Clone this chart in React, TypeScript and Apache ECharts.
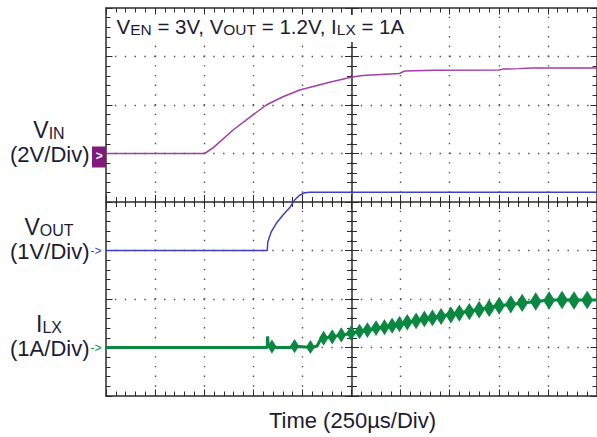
import React, { useEffect, useRef } from "react";
import * as echarts from "echarts";

// ---- Data (time in µs, 250 µs/div) ----
const vinTime = [0, 502, 545, 647, 748, 816, 901, 986, 1138, 1248, 1306, 1494, 1520, 1672, 2000, 2020, 2100, 2170, 2500];
const vinVolts = [0, 0, 0.23, 0.97, 1.59, 2.0, 2.34, 2.62, 2.94, 3.14, 3.22, 3.3, 3.4, 3.43, 3.44, 3.48, 3.5, 3.53, 3.53];

const voutTime = [0, 821, 824, 842, 867, 901, 935, 960, 986, 1011, 1037, 2500];
const voutVolts = [0, 0, 0.18, 0.39, 0.56, 0.73, 0.88, 1.04, 1.14, 1.19, 1.2, 1.2];

const ilxTime = [0, 821, 823, 826, 845, 935, 986, 1047, 1075, 1090, 1108, 1190, 1250, 1495, 1748, 2000, 2255, 2500];
const ilxAmps = [0, 0, 0.23, 0.03, 0.0, 0.0, 0.02, 0.0, 0.03, 0.15, 0.19, 0.25, 0.29, 0.48, 0.68, 0.86, 0.98, 0.98];

// ripple bursts on the inductor current (centres)
const rippleTime = [845, 960, 1041, 1108, 1152, 1198, 1248, 1291, 1331, 1375, 1418, 1457, 1494, 1534, 1579, 1621, 1662, 1706, 1756, 1799, 1850, 1900, 1951, 2002, 2061, 2119, 2188, 2256, 2322, 2383, 2450];
const rippleAmps = [0.02, 0.03, 0.01, 0.19, 0.22, 0.26, 0.3, 0.33, 0.36, 0.4, 0.42, 0.45, 0.48, 0.52, 0.55, 0.59, 0.61, 0.64, 0.67, 0.71, 0.74, 0.78, 0.81, 0.86, 0.89, 0.92, 0.95, 0.97, 0.98, 0.97, 0.98];

// scope settings: [min, max] of each channel's screen (8 divisions)
const vinRange = [-10, 6];   // 2 V/div, ground at 5th division
const voutRange = [-3, 5];   // 1 V/div, ground at 3rd division
const ilxRange = [-1, 7];    // 1 A/div, ground at 1st division

const timeMin = 0;
const timeMax = 2500;
const timeDiv = 250;

const channelNames = ["V", "V", "I"];
const channelSubs = ["IN", "OUT", "LX"];
const channelScales = ["(2V/Div)", "(1V/Div)", "(1A/Div)"];
const titleText = "{a|V}{b|EN}{a| = 3V, V}{b|OUT}{a| = 1.2V, I}{b|LX}{a| = 1A}";
const xLabel = "Time (250µs/Div)";

const FONT = "'Liberation Sans', Arial, sans-serif";
const TEXT = "#1c1c34";
const LINE = "#2b2b2b";
const DOT = "#4c4c4c";
const C_VIN = "#a23ea6";
const C_VIN_BOX = "#821a7e";
const C_VOUT = "#3f3fc6";
const C_ILX = "#0a8842";

const zip = (a: number[], b: number[]) => a.map((t, i) => [t, b[i]]);

export default function App() {
  const ref = useRef<HTMLDivElement>(null);

  useEffect(() => {
    if (!ref.current) return;
    const chart = echarts.init(ref.current, null, { renderer: "svg" });
    const grid = { left: 106, top: 8, width: 492, height: 388 };

    const tickBase = (inside: boolean, major: number, minor: number) => ({
      axisTick: { show: true, inside, length: major, lineStyle: { color: LINE, width: 1 } },
      minorTick: { show: true, splitNumber: 5, length: minor, lineStyle: { color: LINE, width: 1 } },
    });

    const xCommon = {
      type: "value",
      min: timeMin,
      max: timeMax,
      interval: timeDiv,
      axisLabel: { show: false },
      splitLine: { show: false },
    };
    const yCommon = {
      type: "value",
      min: 0,
      max: 8,
      interval: 1,
      axisLabel: { show: false },
      splitLine: { show: false },
    };
    const lineOn = { show: true, onZero: false, lineStyle: { color: LINE, width: 1.5 } };
    const lineOff = { show: false, onZero: false };

    const option: any = {
      animation: false,
      backgroundColor: "#ffffff",
      grid: { ...grid, containLabel: false },
      xAxis: [
        {
          ...xCommon,
          position: "bottom",
          axisLine: lineOn,
          ...tickBase(true, 6.5, 4.5),
          splitLine: {
            show: true,
            showMinLine: false,
            showMaxLine: false,
            lineStyle: { color: DOT, width: 1.4, type: [1.4, 8.3], dashOffset: 0.7 },
          },
        },
        { ...xCommon, position: "top", axisLine: lineOn, ...tickBase(true, 6.5, 4.5) },
        { ...xCommon, position: "bottom", offset: -194, axisLine: lineOn, ...tickBase(true, 7, 5) },
        { ...xCommon, position: "bottom", offset: -194, axisLine: lineOff, ...tickBase(false, 7, 5) },
      ],
      yAxis: [
        {
          ...yCommon,
          position: "left",
          axisLine: lineOn,
          ...tickBase(true, 6.5, 4.5),
          splitLine: {
            show: true,
            showMinLine: false,
            showMaxLine: false,
            lineStyle: { color: DOT, width: 1.4, type: [1.4, 8.44], dashOffset: 0.7 },
          },
        },
        { ...yCommon, position: "right", axisLine: lineOn, ...tickBase(true, 6.5, 4.5) },
        { ...yCommon, position: "left", offset: -246, axisLine: lineOn, ...tickBase(true, 7, 5) },
        { ...yCommon, position: "left", offset: -246, axisLine: lineOff, ...tickBase(false, 7, 5) },
        { type: "value", show: false, min: vinRange[0], max: vinRange[1] },
        { type: "value", show: false, min: voutRange[0], max: voutRange[1] },
        { type: "value", show: false, min: ilxRange[0], max: ilxRange[1] },
      ],
      series: [
        {
          name: "VIN",
          type: "line",
          xAxisIndex: 0,
          yAxisIndex: 4,
          data: zip(vinTime, vinVolts),
          symbol: "none",
          lineStyle: { color: C_VIN, width: 1.5 },
          z: 5,
        },
        {
          name: "VOUT",
          type: "line",
          xAxisIndex: 0,
          yAxisIndex: 5,
          data: zip(voutTime, voutVolts),
          symbol: "none",
          lineStyle: { color: C_VOUT, width: 1.5 },
          z: 5,
        },
        {
          name: "ILX",
          type: "line",
          xAxisIndex: 0,
          yAxisIndex: 6,
          data: zip(ilxTime, ilxAmps),
          symbol: "none",
          lineStyle: { color: C_ILX, width: 3 },
          z: 5,
        },
        {
          name: "ILX ripple",
          type: "scatter",
          xAxisIndex: 0,
          yAxisIndex: 6,
          data: zip(rippleTime, rippleAmps),
          symbol: "diamond",
          symbolSize: (v: number[]) => [7.5 + 3 * v[1], 12 + 4.5 * v[1]],
          itemStyle: { color: C_ILX, opacity: 1, borderColor: C_ILX, borderWidth: 1.2 },
          z: 6,
        },
      ],
    };
    chart.setOption(option);

    const ground = (axisIndex: number, range: number[]) => {
      const p = chart.convertToPixel({ yAxisIndex: axisIndex } as any, 0) as any;
      if (typeof p === "number" && isFinite(p)) return p;
      return grid.top + (grid.height * range[1]) / (range[1] - range[0]);
    };
    const grounds = [ground(4, vinRange), ground(5, voutRange), ground(6, ilxRange)];
    const colors = [C_VIN, C_VOUT, C_ILX];

    const graphic: any[] = [];
    grounds.forEach((g, i) => {
      graphic.push({
        type: "text",
        style: {
          x: 49,
          y: g - 24,
          text: `{a|${channelNames[i]}}{b|${channelSubs[i]}}`,
          align: "center",
          verticalAlign: "middle",
          rich: {
            a: { fontSize: 23, lineHeight: 23, fontFamily: FONT, fill: TEXT, verticalAlign: "bottom" },
            b: { fontSize: 16, lineHeight: 16, fontFamily: FONT, fill: TEXT, verticalAlign: "bottom" },
          },
        },
      });
      graphic.push({
        type: "text",
        style: {
          x: 89.5,
          y: g + 1,
          text: channelScales[i],
          font: `22px ${FONT}`,
          fill: TEXT,
          align: "right",
          verticalAlign: "middle",
        },
      });
      if (i === 0) {
        graphic.push({
          type: "rect",
          shape: { x: 92, y: g - 7, width: 14, height: 21 },
          style: { fill: C_VIN_BOX },
          z: 10,
        });
        graphic.push({
          type: "text",
          style: {
            x: 99.3,
            y: g + 2,
            text: ">",
            font: `bold 12px ${FONT}`,
            fill: "#ffffff",
            align: "center",
            verticalAlign: "middle",
          },
          z: 11,
        });
      } else {
        graphic.push({
          type: "text",
          style: {
            x: 90.5,
            y: g + 0.5,
            text: "->",
            font: `12px ${FONT}`,
            fill: colors[i],
            align: "left",
            verticalAlign: "middle",
          },
        });
      }
    });

    // white panel behind the annotation (hides grid there, as on the scope)
    graphic.push({
      type: "rect",
      shape: { x: 112, y: 15, width: 296, height: 27 },
      style: { fill: "#ffffff" },
      z: 19,
    });
    graphic.push({
      type: "text",
      style: {
        x: 116.5,
        y: 27,
        text: titleText,
        align: "left",
        verticalAlign: "middle",
        rich: {
          a: { fontSize: 20.5, lineHeight: 20, fontFamily: FONT, fill: TEXT, verticalAlign: "bottom" },
          b: { fontSize: 15.5, lineHeight: 15.5, fontFamily: FONT, fill: TEXT, verticalAlign: "bottom" },
        },
      },
      z: 20,
    });
    graphic.push({
      type: "text",
      style: {
        x: 352.5,
        y: 420,
        text: xLabel,
        font: `22px ${FONT}`,
        fill: TEXT,
        align: "center",
        verticalAlign: "middle",
      },
    });

    chart.setOption({ graphic });

    return () => chart.dispose();
  }, []);

  return (
    <div
      ref={ref}
      style={{ position: "fixed", left: 0, top: 0, width: 597, height: 437, background: "#fff" }}
    />
  );
}
